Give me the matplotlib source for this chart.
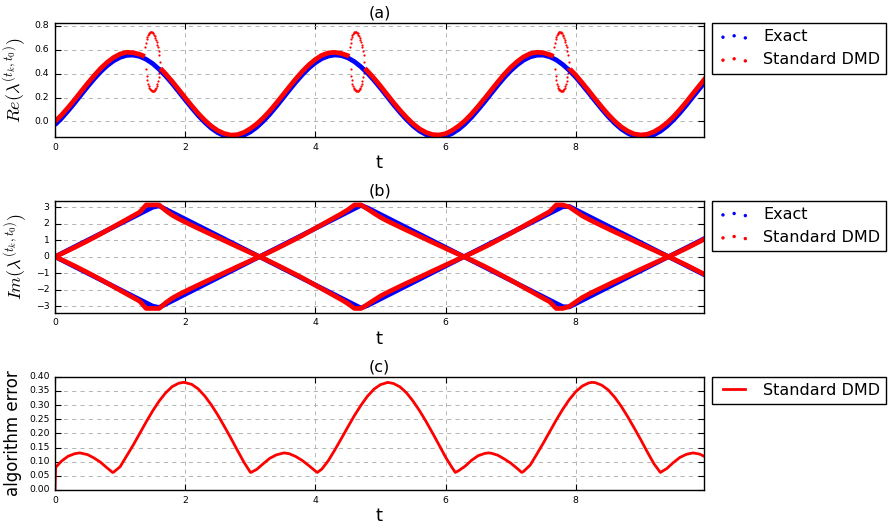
import numpy as np
import matplotlib
matplotlib.use("Agg")
import matplotlib.pyplot as plt

plt.style.use("classic")
plt.rcParams["mathtext.fontset"] = "cm"
plt.rcParams["font.family"] = ["DejaVu Sans"]

# ---------------- data ----------------
t = [0.0, 0.1, 0.2, 0.3, 0.4, 0.5, 0.6, 0.7, 0.8, 0.9,
     1.0, 1.1, 1.2, 1.3, 1.4, 1.5, 1.6, 1.7, 1.8, 1.9,
     2.0, 2.1, 2.2, 2.3, 2.4, 2.5, 2.6, 2.7, 2.8, 2.9,
     3.0, 3.1, 3.2, 3.3, 3.4, 3.5, 3.6, 3.7, 3.8, 3.9,
     4.0, 4.1, 4.2, 4.3, 4.4, 4.5, 4.6, 4.7, 4.8, 4.9,
     5.0, 5.1, 5.2, 5.3, 5.4, 5.5, 5.6, 5.7, 5.8, 5.9,
     6.0, 6.1, 6.2, 6.3, 6.4, 6.5, 6.6, 6.7, 6.8, 6.9,
     7.0, 7.1, 7.2, 7.3, 7.4, 7.5, 7.6, 7.7, 7.8, 7.9,
     8.0, 8.1, 8.2, 8.3, 8.4, 8.5, 8.6, 8.7, 8.8, 8.9,
     9.0, 9.1, 9.2, 9.3, 9.4, 9.5, 9.6, 9.7, 9.8, 9.9,
     10.0]

exact_re = [-0.028, 0.026, 0.088, 0.154, 0.223, 0.291, 0.356, 0.416, 0.467, 0.508,
            0.537, 0.554, 0.556, 0.545, 0.521, 0.485, 0.437, 0.381, 0.318, 0.250,
            0.181, 0.114, 0.050, -0.007, -0.056, -0.094, -0.119, -0.132, -0.131, -0.116,
            -0.088, -0.048, 0.003, 0.061, 0.126, 0.194, 0.263, 0.330, 0.392, 0.447,
            0.492, 0.527, 0.548, 0.557, 0.552, 0.533, 0.501, 0.458, 0.405, 0.345,
            0.279, 0.210, 0.141, 0.076, 0.016, -0.037, -0.080, -0.110, -0.128, -0.133,
            -0.124, -0.101, -0.066, -0.020, 0.036, 0.099, 0.165, 0.234, 0.302, 0.367,
            0.425, 0.474, 0.514, 0.541, 0.555, 0.556, 0.542, 0.516, 0.477, 0.428,
            0.371, 0.306, 0.239, 0.170, 0.103, 0.040, -0.016, -0.064, -0.099, -0.123,
            -0.133, -0.129, -0.112, -0.082, -0.040, 0.012, 0.072, 0.137, 0.206, 0.274,
            0.341]

# Standard DMD real part (None where the pair splits into the loops)
dmd_re = [0.000, 0.054, 0.116, 0.182, 0.251, 0.319, 0.384, 0.444, 0.495, 0.536,
          0.565, 0.580, 0.576, 0.563, None, None, None, 0.399, 0.336, 0.268,
          0.199, 0.132, 0.068, 0.011, -0.038, -0.076, -0.101, -0.114, -0.111, -0.092,
          -0.060, -0.020, 0.031, 0.089, 0.154, 0.222, 0.291, 0.358, 0.420, 0.475,
          0.520, 0.555, 0.574, 0.579, 0.570, 0.551, None, None, 0.423, 0.363,
          0.297, 0.228, 0.159, 0.094, 0.034, -0.019, -0.062, -0.092, -0.110, -0.113,
          -0.102, -0.075, -0.038, 0.008, 0.064, 0.127, 0.193, 0.262, 0.330, 0.395,
          0.453, 0.502, 0.542, 0.569, 0.580, 0.576, 0.560, None, None, 0.446,
          0.389, 0.324, 0.257, 0.188, 0.121, 0.058, 0.002, -0.046, -0.081, -0.105,
          -0.113, -0.107, -0.086, -0.054, -0.012, 0.040, 0.100, 0.165, 0.234, 0.302,
          0.369]

# where the DMD band stops / resumes around each loop
dmd_re_edge_t = [1.38, 1.62, 4.52, 4.76, 7.66, 7.90]
dmd_re_edge = [0.545, 0.445, 0.545, 0.445, 0.545, 0.445]

# one loop (first one), repeated every half period
loop_t = [1.39, 1.40, 1.41, 1.42, 1.43, 1.44, 1.45, 1.46, 1.47, 1.48, 1.49, 1.50,
          1.51, 1.52, 1.53, 1.54, 1.55, 1.56, 1.57, 1.58, 1.59, 1.60, 1.61]
loop_upper = [0.62, 0.66, 0.69, 0.71, 0.725, 0.737, 0.745, 0.75, 0.753, 0.753, 0.75, 0.745,
              0.738, 0.728, 0.715, 0.70, 0.683, 0.664, 0.643, 0.62, 0.59, 0.555, 0.50]
loop_lower = [0.52, 0.44, 0.38, 0.345, 0.318, 0.298, 0.284, 0.274, 0.266, 0.261, 0.258, 0.257,
              0.257, 0.258, 0.262, 0.269, 0.28, 0.295, 0.315, 0.34, 0.37, 0.41, 0.45]
loop_shift = [0.0, 3.14, 6.28]

# imaginary part (upper branch; the lower branch is its complex conjugate)
exact_im = [0.0, 0.2, 0.4, 0.6, 0.8, 1.0, 1.2, 1.4, 1.6, 1.8,
            2.0, 2.2, 2.4, 2.6, 2.8, 3.0, 3.083, 2.883, 2.683, 2.483,
            2.283, 2.083, 1.883, 1.683, 1.483, 1.283, 1.083, 0.883, 0.683, 0.483,
            0.283, 0.083, -0.117, -0.317, -0.517, -0.717, -0.917, -1.117, -1.317, -1.517,
            -1.717, -1.917, -2.117, -2.317, -2.517, -2.717, -2.917, -3.117, -2.966, -2.766,
            -2.566, -2.366, -2.166, -1.966, -1.766, -1.566, -1.366, -1.166, -0.966, -0.766,
            -0.566, -0.366, -0.166, 0.034, 0.234, 0.434, 0.634, 0.834, 1.034, 1.234,
            1.434, 1.634, 1.834, 2.034, 2.234, 2.434, 2.634, 2.834, 3.034, 3.050,
            2.850, 2.650, 2.450, 2.250, 2.050, 1.850, 1.650, 1.450, 1.250, 1.050,
            0.850, 0.650, 0.450, 0.250, 0.050, -0.150, -0.350, -0.550, -0.750, -0.950,
            -1.150]

dmd_im = [0.0, 0.18, 0.37, 0.56, 0.76, 0.96, 1.17, 1.38, 1.60, 1.82,
          2.04, 2.26, 2.48, 2.70, 3.1416, 3.1416, 3.1416, 2.80, 2.52, 2.30,
          2.10, 1.91, 1.72, 1.535, 1.35, 1.165, 0.98, 0.795, 0.61, 0.43,
          0.25, 0.07, -0.105, -0.29, -0.48, -0.68, -0.88, -1.08, -1.29, -1.51,
          -1.73, -1.95, -2.17, -2.39, -2.61, -2.85, -3.1416, -3.1416, -2.90, -2.64,
          -2.39, -2.18, -1.99, -1.80, -1.61, -1.43, -1.24, -1.06, -0.87, -0.69,
          -0.505, -0.325, -0.145, 0.03, 0.21, 0.40, 0.59, 0.79, 1.00, 1.21,
          1.42, 1.64, 1.86, 2.08, 2.30, 2.52, 2.74, 3.1416, 3.1416, 3.02,
          2.75, 2.48, 2.27, 2.07, 1.88, 1.69, 1.50, 1.32, 1.13, 0.95,
          0.76, 0.58, 0.40, 0.22, 0.045, -0.135, -0.32, -0.51, -0.71, -0.91,
          -1.12]

err_t = [0.0, 0.01, 0.1, 0.2, 0.3, 0.38, 0.4, 0.5, 0.6, 0.7, 0.8, 0.885, 0.9,
         1.0, 1.1, 1.2, 1.3, 1.4, 1.5, 1.6, 1.7, 1.8, 1.9, 1.97,
         2.0, 2.1, 2.2, 2.3, 2.4, 2.5, 2.6, 2.7, 2.8, 2.9,
         3.0, 3.01, 3.1, 3.2, 3.3, 3.4, 3.5, 3.52, 3.6, 3.7, 3.8, 3.9,
         4.0, 4.03, 4.1, 4.2, 4.3, 4.4, 4.5, 4.6, 4.7, 4.8, 4.9,
         5.0, 5.1, 5.11, 5.2, 5.3, 5.4, 5.5, 5.6, 5.7, 5.8, 5.9,
         6.0, 6.1, 6.15, 6.2, 6.3, 6.4, 6.5, 6.6, 6.66, 6.7, 6.8, 6.9,
         7.0, 7.1, 7.17, 7.2, 7.3, 7.4, 7.5, 7.6, 7.7, 7.8, 7.9,
         8.0, 8.1, 8.2, 8.25, 8.3, 8.4, 8.5, 8.6, 8.7, 8.8, 8.9,
         9.0, 9.1, 9.2, 9.3, 9.4, 9.5, 9.6, 9.7, 9.8, 9.9, 10.0]
err = [0.0, 0.080, 0.102, 0.119, 0.128, 0.131, 0.130, 0.125, 0.113, 0.098, 0.078, 0.062, 0.063,
       0.082, 0.120, 0.158, 0.199, 0.240, 0.279, 0.314, 0.343, 0.365, 0.377, 0.380,
       0.379, 0.373, 0.357, 0.332, 0.301, 0.265, 0.225, 0.184, 0.141, 0.099,
       0.063, 0.062, 0.073, 0.093, 0.112, 0.124, 0.130, 0.131, 0.128, 0.118, 0.104, 0.086,
       0.067, 0.062, 0.074, 0.104, 0.142, 0.182, 0.223, 0.263, 0.299, 0.331, 0.356,
       0.372, 0.379, 0.380, 0.376, 0.364, 0.343, 0.314, 0.280, 0.242, 0.201, 0.159,
       0.116, 0.079, 0.062, 0.068, 0.084, 0.105, 0.121, 0.129, 0.131, 0.130, 0.123, 0.110,
       0.095, 0.076, 0.062, 0.066, 0.088, 0.126, 0.165, 0.206, 0.247, 0.285, 0.319,
       0.347, 0.367, 0.378, 0.380, 0.379, 0.370, 0.353, 0.327, 0.295, 0.258, 0.218,
       0.177, 0.134, 0.093, 0.062, 0.076, 0.097, 0.115, 0.126, 0.131, 0.127, 0.116]

# ---------------- figure ----------------
BLUE = (0.0, 0.0, 1.0)
RED = (1.0, 0.0, 0.0)

fig = plt.figure(figsize=(8.92, 5.31), dpi=100)
fig.patch.set_facecolor("white")

L, W = 55 / 892, 649 / 892
ax_a = fig.add_axes([L, 394 / 531, W, 114 / 531])
ax_b = fig.add_axes([L, 218.3 / 531, W, 112 / 531])
ax_c = fig.add_axes([L, 41 / 531, W, 113.3 / 531])


def style(ax, title, ylabel, ysize):
    ax.set_facecolor("white")
    ax.set_xlim(0, 9.97)
    ax.set_xticks([0, 2, 4, 6, 8])
    ax.set_axisbelow(True)
    ax.grid(True, color="#b4b4b4", linestyle=(0, (3, 3)), linewidth=0.7)
    ax.tick_params(labelsize=6.7, direction="in", top=True, right=True,
                   length=4, width=0.8, pad=4)
    ax.set_title(title, fontsize=11.5, pad=4)
    ax.set_xlabel("t", fontsize=13, labelpad=2)
    ax.set_ylabel(ylabel, fontsize=ysize)


def add_legend(ax, handles):
    ax.legend(handles=handles, loc="upper left", bbox_to_anchor=(1.012, 1.0),
              borderaxespad=0, fontsize=11.5, scatterpoints=3,
              scatteryoffsets=[0.375, 0.5, 0.3125], numpoints=2,
              fancybox=False, framealpha=1, edgecolor="black",
              handlelength=2.0, handletextpad=0.8, borderpad=0.4,
              labelspacing=0.5)


# (a) real part
t_arr = np.array(t, dtype=float)
ax_a.plot(t_arr, np.array(exact_re, dtype=float), color=BLUE, lw=3.4,
          solid_capstyle="butt")
band_t = np.concatenate([t_arr, np.array(dmd_re_edge_t)])
band_y = np.concatenate([np.array(dmd_re, dtype=float), np.array(dmd_re_edge)])
order = np.argsort(band_t, kind="stable")
ax_a.plot(band_t[order], band_y[order], color=RED, lw=3.4, solid_capstyle="butt")
for s in loop_shift:
    lt = [v + s for v in loop_t]
    ax_a.scatter(lt + lt, loop_upper + loop_lower, s=2.5, marker="o",
                 color=RED, linewidths=0)
h1 = ax_a.scatter([], [], s=6, marker="o", color=BLUE, linewidths=0, label="Exact")
h2 = ax_a.scatter([], [], s=6, marker="o", color=RED, linewidths=0, label="Standard DMD")
ax_a.set_ylim(-0.13, 0.825)
ax_a.set_yticks([0.0, 0.2, 0.4, 0.6, 0.8])
style(ax_a, "(a)", r"$Re(\lambda^{(t_k,t_0)})$", 13)
add_legend(ax_a, [h1, h2])

# (b) imaginary part
ax_b.plot(t, exact_im, color=BLUE, lw=3.4)
ax_b.plot(t, [-v for v in exact_im], color=BLUE, lw=3.4)
ax_b.plot(t, dmd_im, color=RED, lw=3.4)
ax_b.plot(t, [-v for v in dmd_im], color=RED, lw=3.4)
g1 = ax_b.scatter([], [], s=6, marker="o", color=BLUE, linewidths=0, label="Exact")
g2 = ax_b.scatter([], [], s=6, marker="o", color=RED, linewidths=0, label="Standard DMD")
ax_b.set_ylim(-3.4, 3.4)
ax_b.set_yticks([-3, -2, -1, 0, 1, 2, 3])
style(ax_b, "(b)", r"$Im(\lambda^{(t_k,t_0)})$", 13)
add_legend(ax_b, [g1, g2])

# (c) algorithm error
l1, = ax_c.plot(err_t, err, color=RED, lw=2.0, label="Standard DMD")
ax_c.set_ylim(0, 0.4)
ax_c.set_yticks([0.0, 0.05, 0.1, 0.15, 0.2, 0.25, 0.3, 0.35, 0.4])
ax_c.yaxis.set_major_formatter(matplotlib.ticker.FormatStrFormatter("%.2f"))
style(ax_c, "(c)", "algorithm error", 12)
add_legend(ax_c, [l1])

fig.savefig("out.png", dpi=100, facecolor="white")
